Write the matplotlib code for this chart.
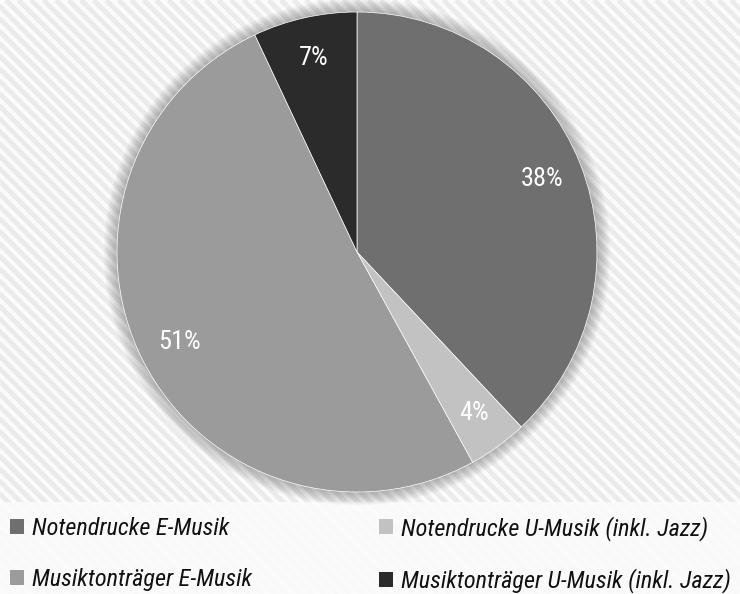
import numpy as np
import matplotlib
matplotlib.use("Agg")
import matplotlib.pyplot as plt
from matplotlib import font_manager
from matplotlib.patches import Patch, Circle, Rectangle

# Daten
kategorien = ["Notendrucke E-Musik", "Notendrucke U-Musik (inkl. Jazz)",
              "Musiktonträger E-Musik", "Musiktonträger U-Musik (inkl. Jazz)"]
anteile = [38, 4, 51, 7]
farben = ["#6f6f6f", "#c2c2c2", "#9b9b9b", "#2b2b2b"]

# schmale schrift suchen, sonst DejaVu Sans Condensed
vorhanden = {f.name for f in font_manager.fontManager.ttflist}
schmal = None
for name in ["Roboto Condensed", "Liberation Sans Narrow", "Open Sans Condensed", "Noto Sans Condensed"]:
    if name in vorhanden:
        schmal = name
        break
if schmal is None:
    schrift = dict(family=["DejaVu Sans"], stretch="condensed")
else:
    schrift = dict(family=[schmal, "DejaVu Sans"])

W, H = 740, 594
fig = plt.figure(figsize=(W / 100, H / 100), dpi=100)
fig.patch.set_facecolor("#fbfbfb")

# hintergrund mit diagonalen streifen
bg = fig.add_axes([0, 0, 1, 1])
bg.set_xlim(0, W)
bg.set_ylim(0, H)
bg.axis("off")
periode = 12.5
for c in np.arange(-H, W + H, periode):
    bg.plot([c, c + H], [H, 0], color="#ebebeb", lw=3.5, solid_capstyle="butt", zorder=0)
# legendenbereich heller
bg.add_patch(Rectangle((0, 0), W, 92, color="#fcfcfc", alpha=0.85, lw=0, zorder=1))

# pie
cx, cy, r = 357, 252, 240
ax = fig.add_axes([(cx - r) / W, (H - cy - r) / H, 2 * r / W, 2 * r / H])
ax.axis("off")

# weicher schatten
for i in range(14):
    ax.add_patch(Circle((0, 0), 1 + 0.004 * (i + 1), color="#000000", alpha=0.02, lw=0,
                        zorder=0, clip_on=False))

wedges, texts, autotexts = ax.pie(
    anteile, colors=farben, startangle=90, counterclock=False, radius=1,
    autopct="%d%%", pctdistance=0.83,
    wedgeprops=dict(edgecolor="#ffffff", linewidth=0.5),
    textprops=dict(color="white", fontsize=19, **schrift))
for w in wedges:
    w.set_zorder(2)
for t in autotexts:
    t.set_zorder(3)
ax.set_xlim(-1, 1)
ax.set_ylim(-1, 1)
ax.set_aspect("equal")

# legende in zwei spalten (spaltenweise gefuellt)
reihenfolge = [0, 2, 1, 3]
prop = font_manager.FontProperties(size=17.5 if schmal else 15, style="italic", **schrift)
h = [Patch(facecolor=farben[i], edgecolor="none") for i in reihenfolge]
l = [kategorien[i] for i in reihenfolge]
lg = fig.legend(h, l, loc="upper left", bbox_to_anchor=(0, (H - 506) / H), ncol=2,
                frameon=False, handlelength=0.57, handleheight=0.57, handletextpad=0.36,
                labelspacing=1.15, columnspacing=5.2, prop=prop, borderaxespad=0)
for t in lg.get_texts():
    t.set_color("#111111")

fig.savefig("out.png", dpi=100, facecolor=fig.get_facecolor())
